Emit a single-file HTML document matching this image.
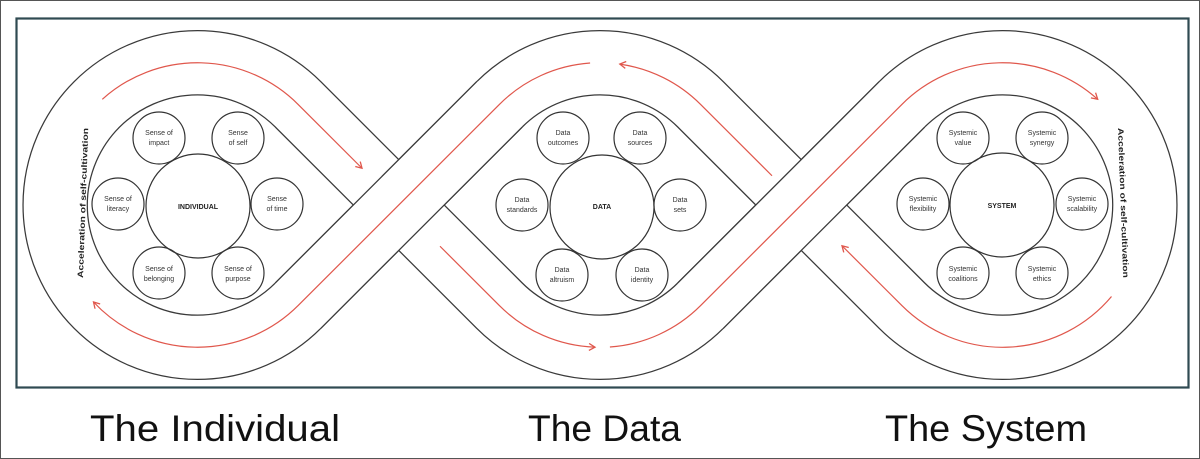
<!DOCTYPE html>
<html><head><meta charset="utf-8"><style>
html,body{margin:0;padding:0;background:#fff;}
svg{display:block;}
</style></head><body>
<svg width="1200" height="459" viewBox="0 0 1200 459" xmlns="http://www.w3.org/2000/svg" font-family="Liberation Sans, sans-serif">
<defs>
<marker id="ah" markerWidth="10" markerHeight="10" refX="7" refY="4" orient="auto" markerUnits="userSpaceOnUse">
<path d="M1,0.5 L7,4 L1,7.5" fill="none" stroke="#e0574c" stroke-width="1.3"/>
</marker>
</defs>
<rect x="0.5" y="0.5" width="1199" height="458" fill="#fff" stroke="#555" stroke-width="1"/>
<rect x="16.5" y="18.5" width="1172" height="369" fill="#fff" stroke="#2f4a52" stroke-width="2.2"/>

<g fill="none">
<path d="M298.1,104.4 A142.3,142.3 0 1 0 298.1,305.6 L499.4,104.4 A142.3,142.3 0 0 1 700.6,104.4 L901.9,305.6 A142.3,142.3 0 1 0 901.9,104.4 L700.6,305.6 A142.3,142.3 0 0 1 499.4,305.6 Z" stroke="#3a3a3a" stroke-width="65.5"/>
<path d="M298.1,104.4 A142.3,142.3 0 1 0 298.1,305.6 L499.4,104.4 A142.3,142.3 0 0 1 700.6,104.4 L901.9,305.6 A142.3,142.3 0 1 0 901.9,104.4 L700.6,305.6 A142.3,142.3 0 0 1 499.4,305.6 Z" stroke="#fff" stroke-width="63"/>
<path d="M298.1,305.6 L499.4,104.4 M700.6,305.6 L901.9,104.4" stroke="#3a3a3a" stroke-width="65.5"/>
<path d="M297.4,306.3 L500.1,103.7 M699.9,306.3 L902.6,103.7" stroke="#fff" stroke-width="63"/>
</g>

<g fill="none" stroke="#e0574c" stroke-width="1.2" marker-end="url(#ah)">
<path d="M102.3,99.3 A142.3,142.3 0 0 1 298.1,104.4 L362,168.25"/>
<path d="M590.1,63 A142.3,142.3 0 0 0 499.4,104.4 L298.1,305.6 A142.3,142.3 0 0 1 93.5,302"/>
<path d="M772,175.75 L700.6,104.4 A142.3,142.3 0 0 0 619.8,64.1"/>
<path d="M440,246.25 L499.4,305.6 A142.3,142.3 0 0 0 595,347.2"/>
<path d="M609.9,347 A142.3,142.3 0 0 0 700.6,305.6 L901.9,104.4 A142.3,142.3 0 0 1 1097.7,99.3"/>
<path d="M1111.5,296.5 A142.3,142.3 0 0 1 901.9,305.6 L842,245.75"/>
</g>

<g fill="none" stroke="#333" stroke-width="1.2">
<circle cx="198" cy="206" r="52"/>
<circle cx="159" cy="138" r="26"/><circle cx="238" cy="138" r="26"/>
<circle cx="118" cy="204" r="26"/><circle cx="277" cy="204" r="26"/>
<circle cx="159" cy="273" r="26"/><circle cx="238" cy="273" r="26"/>
<circle cx="602" cy="207" r="52"/>
<circle cx="563" cy="138" r="26"/><circle cx="640" cy="138" r="26"/>
<circle cx="522" cy="205" r="26"/><circle cx="680" cy="205" r="26"/>
<circle cx="562" cy="275" r="26"/><circle cx="642" cy="275" r="26"/>
<circle cx="1002" cy="205" r="52"/>
<circle cx="963" cy="138" r="26"/><circle cx="1042" cy="138" r="26"/>
<circle cx="923" cy="204" r="26"/><circle cx="1082" cy="204" r="26"/>
<circle cx="963" cy="273" r="26"/><circle cx="1042" cy="273" r="26"/>
</g>

<g font-size="7" fill="#333" text-anchor="middle">
<text x="159" y="135">Sense of</text><text x="159" y="145">impact</text>
<text x="238" y="135">Sense</text><text x="238" y="145">of self</text>
<text x="118" y="201">Sense of</text><text x="118" y="211">literacy</text>
<text x="277" y="201">Sense</text><text x="277" y="211">of time</text>
<text x="159" y="271">Sense of</text><text x="159" y="281">belonging</text>
<text x="238" y="271">Sense of</text><text x="238" y="281">purpose</text>
<text x="563" y="135">Data</text><text x="563" y="145">outcomes</text>
<text x="640" y="135">Data</text><text x="640" y="145">sources</text>
<text x="522" y="202">Data</text><text x="522" y="212">standards</text>
<text x="680" y="202">Data</text><text x="680" y="212">sets</text>
<text x="562" y="272">Data</text><text x="562" y="282">altruism</text>
<text x="642" y="272">Data</text><text x="642" y="282">identity</text>
<text x="963" y="135">Systemic</text><text x="963" y="145">value</text>
<text x="1042" y="135">Systemic</text><text x="1042" y="145">synergy</text>
<text x="923" y="201">Systemic</text><text x="923" y="211">flexibility</text>
<text x="1082" y="201">Systemic</text><text x="1082" y="211">scalability</text>
<text x="963" y="271">Systemic</text><text x="963" y="281">coalitions</text>
<text x="1042" y="271">Systemic</text><text x="1042" y="281">ethics</text>
<g font-weight="bold" fill="#222">
<text x="198" y="209">INDIVIDUAL</text>
<text x="602" y="209">DATA</text>
<text x="1002" y="208">SYSTEM</text>
</g>
</g>

<g font-size="8" font-weight="bold" fill="#222">
<text transform="translate(83,278) rotate(-88)" textLength="150" lengthAdjust="spacingAndGlyphs">Acceleration of self-cultivation</text>
<text transform="translate(1118,128) rotate(88)" textLength="150" lengthAdjust="spacingAndGlyphs">Acceleration of self-cultivation</text>
</g>

<g font-size="37" fill="#111">
<text x="90" y="441" textLength="250" lengthAdjust="spacingAndGlyphs">The Individual</text>
<text x="528" y="441" textLength="153" lengthAdjust="spacingAndGlyphs">The Data</text>
<text x="885" y="441" textLength="202" lengthAdjust="spacingAndGlyphs">The System</text>
</g>
</svg>
</body></html>
